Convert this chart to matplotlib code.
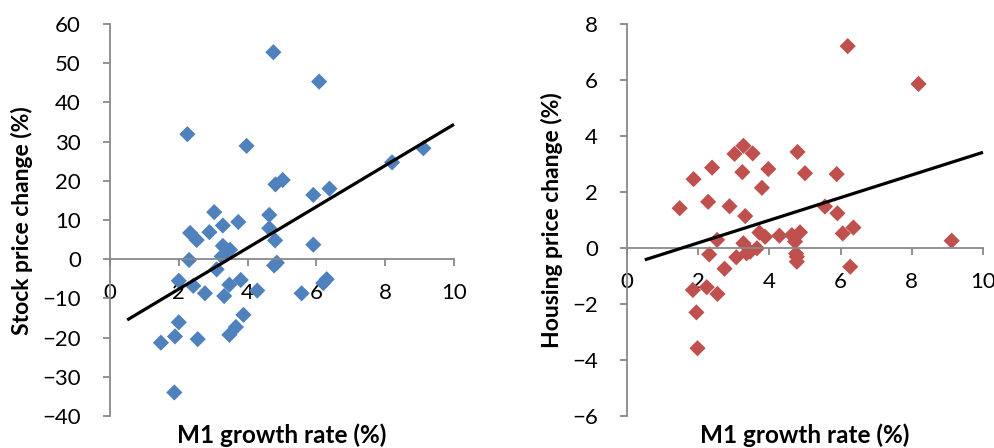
import matplotlib
matplotlib.use("Agg")
import matplotlib.pyplot as plt
import numpy as np

plt.rcParams['font.family'] = ['Lato', 'DejaVu Sans']

# M1 growth rate (%) vs stock price change (%)
m1_stock = [4.75, 6.08, 2.25, 3.97, 8.20, 9.11, 5.02, 4.81, 5.91, 6.38,
            3.03, 4.63, 3.73, 3.28, 4.63, 2.33, 2.89, 2.52, 4.80, 3.28,
            3.49, 3.25, 5.91, 2.30, 3.10, 4.77, 4.85, 2.00, 2.42, 2.76,
            3.32, 3.47, 3.80, 4.28, 5.57, 6.20, 6.30, 3.88, 3.66, 3.47,
            2.00, 1.89, 1.48, 2.55, 1.87]
stock_change = [52.8, 45.3, 31.9, 28.9, 24.7, 28.3, 20.2, 19.1, 16.4, 18.0,
                12.0, 11.3, 9.5, 8.6, 7.9, 6.7, 6.9, 4.9, 4.8, 3.4,
                2.4, 0.7, 3.7, -0.2, -2.6, -1.6, -0.9, -5.5, -6.8, -8.7,
                -9.4, -6.5, -5.3, -8.0, -8.7, -6.1, -5.1, -14.2, -17.3, -19.3,
                -16.1, -19.7, -21.3, -20.4, -34.0]

# M1 growth rate (%) vs housing price change (%)
m1_housing = [6.20, 8.19, 9.12, 3.27, 3.53, 3.02, 4.79, 2.39, 3.24, 3.97,
              5.00, 5.89, 1.87, 3.79, 2.28, 2.88, 1.48, 3.32, 5.56, 5.91,
              6.36, 6.06, 3.72, 3.88, 4.28, 4.63, 4.86, 4.72, 2.53, 3.27,
              3.46, 3.65, 3.36, 2.31, 3.07, 4.77, 4.77, 4.75, 2.74, 6.27,
              1.85, 2.24, 2.54, 1.95, 1.98]
housing_change = [7.21, 5.86, 0.26, 3.65, 3.38, 3.36, 3.43, 2.87, 2.71, 2.82,
                  2.67, 2.64, 2.46, 2.15, 1.65, 1.49, 1.42, 1.14, 1.48, 1.24,
                  0.73, 0.52, 0.55, 0.40, 0.44, 0.46, 0.56, 0.23, 0.29, 0.17,
                  -0.13, -0.01, -0.19, -0.23, -0.33, -0.31, -0.49, -0.20, -0.74, -0.67,
                  -1.50, -1.40, -1.64, -2.30, -3.58]

axis_grey = '#898989'


def style_axes(ax, yticks):
    """Excel-like axes: y axis at x=0, x axis crossing at y=0."""
    ax.set_xlim(0, 10)
    ax.set_ylim(yticks[0], yticks[-1])
    ax.set_xticks([0, 2, 4, 6, 8, 10])
    ax.set_yticks(yticks)
    ax.spines['top'].set_visible(False)
    ax.spines['right'].set_visible(False)
    ax.spines['bottom'].set_position(('data', 0))
    for s in ('left', 'bottom'):
        ax.spines[s].set_color(axis_grey)
        ax.spines[s].set_linewidth(1.3)
    ax.tick_params(axis='both', direction='out', length=5, width=1.3,
                   color=axis_grey, labelsize=16, labelcolor='black')
    ax.tick_params(axis='y', pad=16)
    ax.tick_params(axis='x', pad=12)
    ax.set_facecolor('none')


def add_trend(ax, x, y):
    slope, intercept = np.polyfit(x, y, 1)
    xs = np.array([0.5, 10])
    ax.plot(xs, slope * xs + intercept, color='black', lw=2.3,
            solid_capstyle='butt', clip_on=False, zorder=3)


fig = plt.figure(figsize=(9.95, 4.48), dpi=100)

ax1 = fig.add_axes([110 / 995, 32 / 448, 344 / 995, 392 / 448])
ax1.scatter(m1_stock, stock_change, marker='D', s=68, color='#4F81BD',
            edgecolors='none', clip_on=False, zorder=2)
add_trend(ax1, m1_stock, stock_change)
style_axes(ax1, list(range(-40, 61, 10)))

ax2 = fig.add_axes([627 / 995, 32 / 448, 356 / 995, 392 / 448])
ax2.scatter(m1_housing, housing_change, marker='D', s=68, color='#C0504D',
            edgecolors='none', clip_on=False, zorder=2)
add_trend(ax2, m1_housing, housing_change)
style_axes(ax2, list(range(-6, 9, 2)))

fig.text(22 / 995, 1 - 221 / 448, 'Stock price change (%)', rotation=90,
         ha='center', va='center', fontsize=16.5, fontweight='bold')
fig.text(552 / 995, 1 - 220 / 448, 'Housing price change (%)', rotation=90,
         ha='center', va='center', fontsize=16.5, fontweight='bold')
fig.text(282 / 995, 5 / 448, 'M1 growth rate (%)', ha='center',
         va='baseline', fontsize=17.5, fontweight='bold')
fig.text(805 / 995, 5 / 448, 'M1 growth rate (%)', ha='center',
         va='baseline', fontsize=17.5, fontweight='bold')

fig.savefig('out.png', dpi=100)
